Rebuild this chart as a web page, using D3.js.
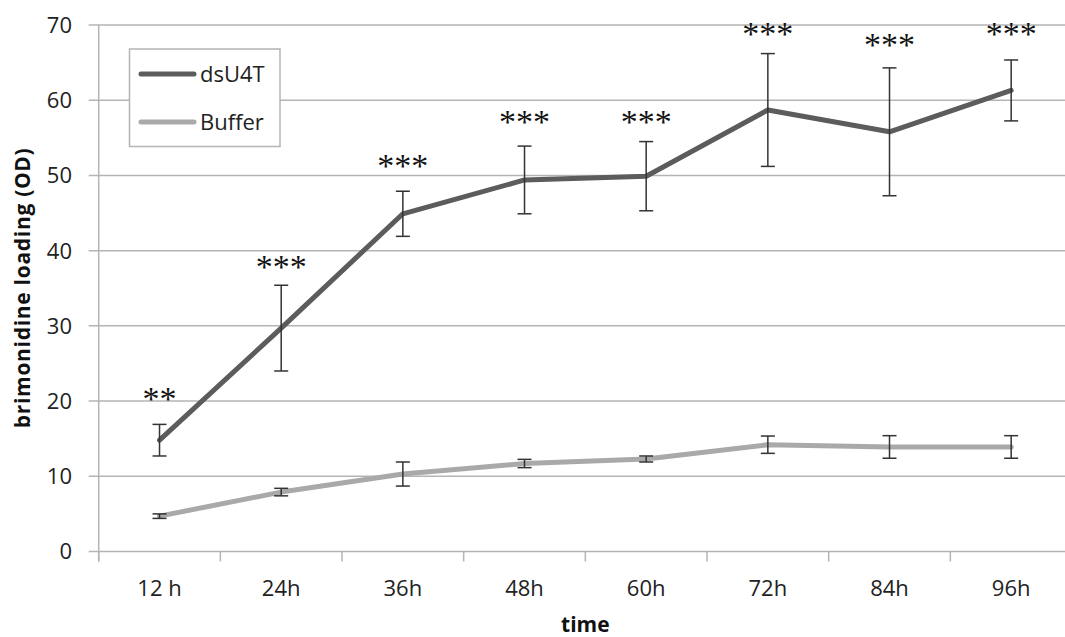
<!DOCTYPE html>
<html>
<head>
<meta charset="utf-8">
<script src="https://cdn.jsdelivr.net/npm/d3@7"></script>
<style>
  html, body { margin: 0; padding: 0; background: #fff; }
  svg { display: block; }
</style>
</head>
<body>
<svg id="chart" width="1065" height="637"></svg>
<script>
const categories = ["12 h", "24h", "36h", "48h", "60h", "72h", "84h", "96h"];
const dsU4T      = [14.8, 29.7, 44.9, 49.4, 49.9, 58.7, 55.8, 61.3];
const dsU4TErr   = [2.1, 5.7, 3.0, 4.5, 4.6, 7.5, 8.5, 4.05];
const buffer     = [4.7, 7.9, 10.3, 11.7, 12.3, 14.2, 13.9, 13.9];
const bufferErr  = [0.3, 0.5, 1.6, 0.55, 0.4, 1.15, 1.5, 1.5];
const sigLabels  = ["**", "***", "***", "***", "***", "***", "***", "***"];
const sigLevel   = [21.1, 38.6, 52.0, 57.9, 57.9, 69.6, 68.2, 69.6];
const yTicks     = [0, 10, 20, 30, 40, 50, 60, 70];
const seriesNames = ["dsU4T", "Buffer"];

(function () {
const svg = d3.select("#chart");
const pL = 98.7, pR = 1072, pT = 25, pB = 551.5;
const x = d3.scaleBand().domain(categories).range([pL, pR]);
const y = d3.scaleLinear().domain([0, 70]).range([pB, pT]);
const font = "'Open Sans', 'Noto Sans', sans-serif";
const gridColor = "#b4b4b4";

// gridlines
svg.append("g").selectAll("line").data(yTicks).join("line")
  .attr("x1", pL - 10).attr("x2", pR)
  .attr("y1", d => y(d)).attr("y2", d => y(d))
  .attr("stroke", gridColor).attr("stroke-width", 1.5);

// y axis line
svg.append("line").attr("x1", pL).attr("x2", pL)
  .attr("y1", pT).attr("y2", pB + 10)
  .attr("stroke", gridColor).attr("stroke-width", 1.5);

// x ticks at band boundaries
const bounds = categories.map(c => x(c)).concat([x(categories[categories.length - 1]) + x.bandwidth()]);
svg.append("g").selectAll("line").data(bounds).join("line")
  .attr("x1", d => d).attr("x2", d => d)
  .attr("y1", pB).attr("y2", pB + 10)
  .attr("stroke", gridColor).attr("stroke-width", 1.5);

// y tick labels
svg.append("g").selectAll("text").data(yTicks).join("text")
  .attr("x", 72).attr("y", d => y(d)).attr("dy", "0.36em")
  .attr("text-anchor", "end")
  .attr("font-family", font).attr("font-size", 22).attr("fill", "#222")
  .text(d => d);

// x tick labels
svg.append("g").selectAll("text").data(categories).join("text")
  .attr("x", d => x(d) + x.bandwidth() / 2).attr("y", 596)
  .attr("text-anchor", "middle")
  .attr("font-family", font).attr("font-size", 22).attr("fill", "#222")
  .text(d => d);

// axis titles
svg.append("text")
  .attr("x", (pL + pR) / 2).attr("y", 632)
  .attr("text-anchor", "middle")
  .attr("font-family", font).attr("font-size", 21).attr("font-weight", "bold").attr("fill", "#111")
  .text("time");
svg.append("text")
  .attr("transform", `translate(30, ${(pT + pB) / 2}) rotate(-90)`)
  .attr("text-anchor", "middle")
  .attr("font-family", font).attr("font-size", 21).attr("font-weight", "bold").attr("fill", "#111")
  .attr("textLength", 280).attr("lengthAdjust", "spacing")
  .text("brimonidine loading (OD)");

const cx = d => x(d) + x.bandwidth() / 2;

function drawSeries(vals, errs, color) {
  const line = d3.line().x((d, i) => cx(categories[i])).y(d => y(d));
  svg.append("path").datum(vals)
    .attr("d", line).attr("fill", "none")
    .attr("stroke", color).attr("stroke-width", 5)
    .attr("stroke-linejoin", "round").attr("stroke-linecap", "round");
  const g = svg.append("g").attr("stroke", "#333").attr("stroke-width", 1.5);
  vals.forEach((v, i) => {
    const px = cx(categories[i]);
    const hi = y(v + errs[i]), lo = y(v - errs[i]);
    g.append("line").attr("x1", px).attr("x2", px).attr("y1", hi).attr("y2", lo);
    g.append("line").attr("x1", px - 7).attr("x2", px + 7).attr("y1", hi).attr("y2", hi);
    g.append("line").attr("x1", px - 7).attr("x2", px + 7).attr("y1", lo).attr("y2", lo);
  });
}
drawSeries(buffer, bufferErr, "#a9a9a9");
drawSeries(dsU4T, dsU4TErr, "#5c5c5c");

// significance labels
svg.append("g").selectAll("text").data(sigLabels).join("text")
  .attr("x", (d, i) => cx(categories[i]))
  .attr("y", (d, i) => y(sigLevel[i]) + 17)
  .attr("text-anchor", "middle")
  .attr("font-family", "'Liberation Serif', serif").attr("font-size", 34)
  .attr("letter-spacing", 0).attr("fill", "#111")
  .text(d => d);

// legend
const lg = svg.append("g");
lg.append("rect").attr("x", 129.5).attr("y", 49).attr("width", 150.5).attr("height", 97.5)
  .attr("fill", "#fff").attr("stroke", gridColor).attr("stroke-width", 1.5);
const legColors = ["#5c5c5c", "#a9a9a9"];
const legY = [74, 122];
seriesNames.forEach((n, i) => {
  lg.append("line").attr("x1", 141).attr("x2", 194).attr("y1", legY[i]).attr("y2", legY[i])
    .attr("stroke", legColors[i]).attr("stroke-width", 5).attr("stroke-linecap", "round");
  lg.append("text").attr("x", 200).attr("y", legY[i]).attr("dy", "0.36em")
    .attr("font-family", font).attr("font-size", 22).attr("fill", "#222").text(n);
});
})();
</script>
</body>
</html>
